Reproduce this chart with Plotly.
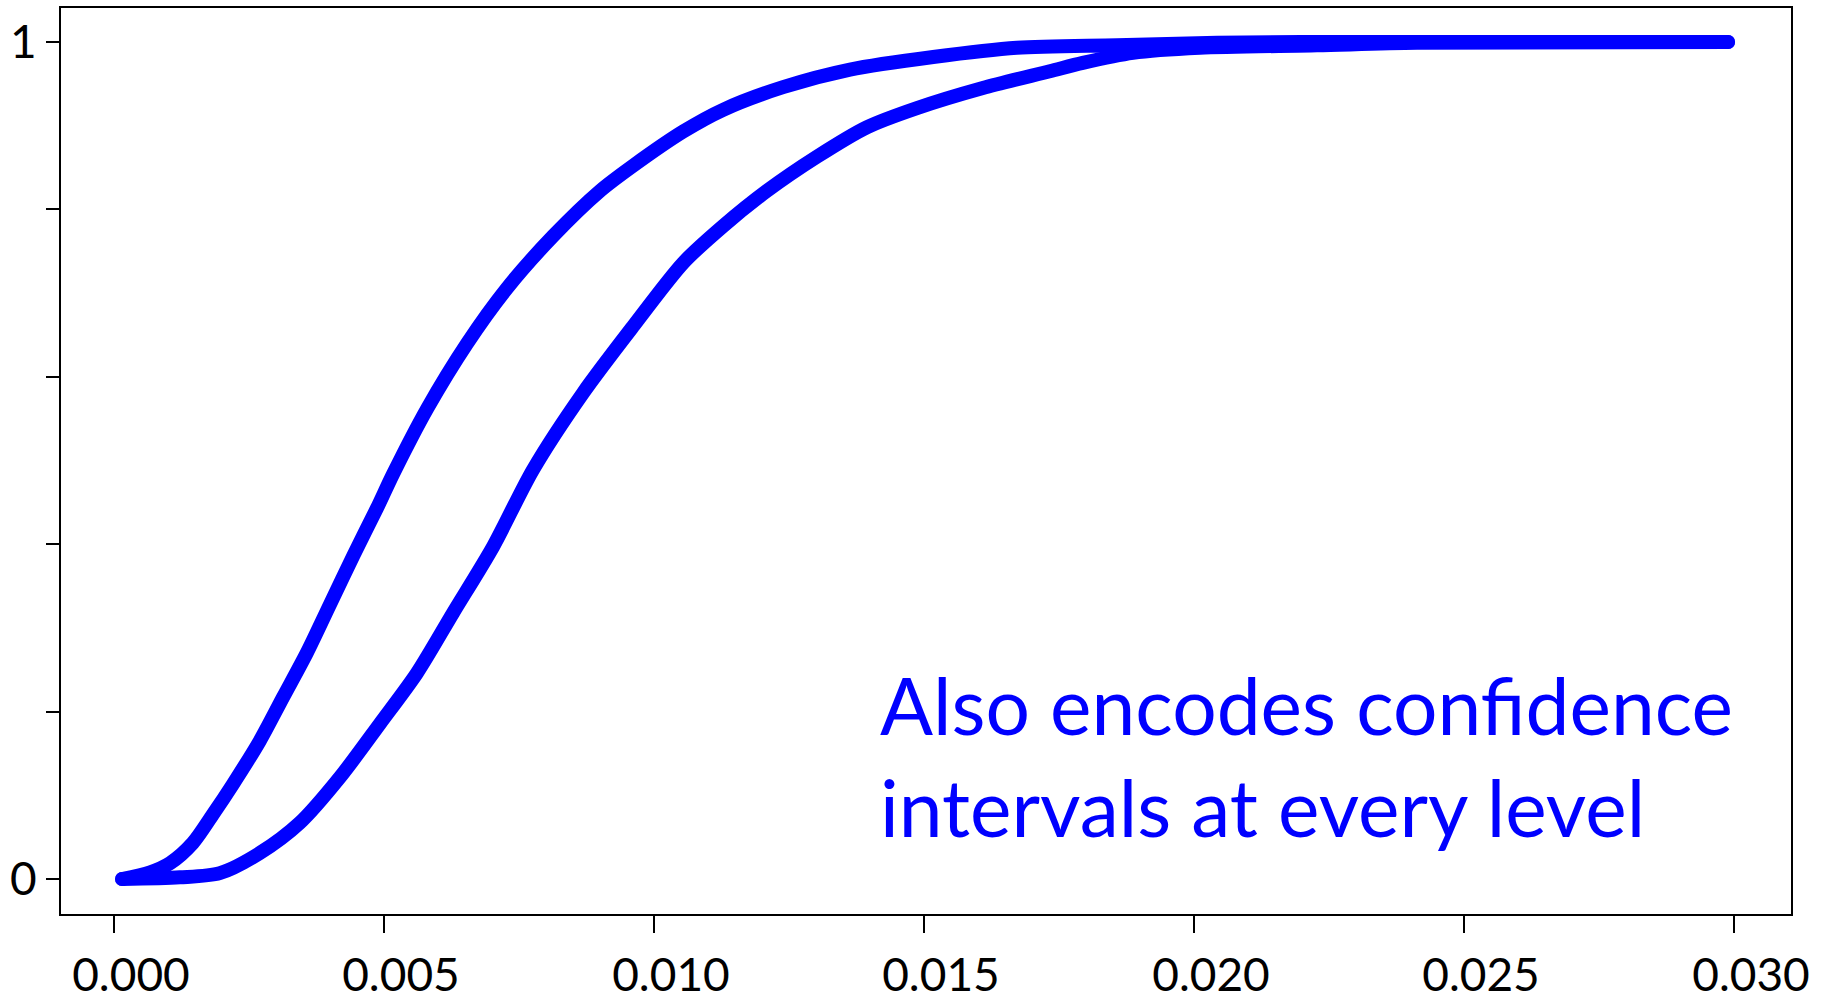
import plotly.graph_objects as go

# Upper (left) bound of the ECDF confidence band
upper_x = [0.00015, 0.00067, 0.00104, 0.00146, 0.00183, 0.00220, 0.00270, 0.00313,
           0.00357, 0.00400, 0.00443, 0.00487, 0.00517, 0.00580, 0.00654, 0.00728,
           0.00813, 0.00900, 0.00961, 0.01054, 0.01128, 0.01239, 0.01363, 0.01517,
           0.01672, 0.01857, 0.02043, 0.02228, 0.02989]
upper_y = [0.000, 0.008, 0.019, 0.043, 0.077, 0.113, 0.165, 0.217,
           0.270, 0.328, 0.386, 0.443, 0.484, 0.562, 0.640, 0.706,
           0.768, 0.822, 0.852, 0.893, 0.919, 0.946, 0.967, 0.982,
           0.993, 0.996, 0.999, 1.000, 1.000]

# Lower (right) bound of the ECDF confidence band
lower_x = [0.00015, 0.00122, 0.00196, 0.00270, 0.00344, 0.00419, 0.00493, 0.00561,
           0.00628, 0.00702, 0.00776, 0.00869, 0.00961, 0.01054, 0.01128, 0.01209,
           0.01302, 0.01394, 0.01487, 0.01609, 0.01733, 0.01794, 0.01887, 0.02011,
           0.02228, 0.02413, 0.02989]
lower_y = [0.000, 0.002, 0.007, 0.031, 0.067, 0.122, 0.186, 0.246,
           0.318, 0.397, 0.489, 0.581, 0.660, 0.736, 0.780, 0.822,
           0.863, 0.898, 0.921, 0.945, 0.965, 0.975, 0.987, 0.993,
           0.996, 0.999, 1.000]

x_tick_vals = [0.000, 0.005, 0.010, 0.015, 0.020, 0.025, 0.030]
x_tick_text = ["0.000", "0.005", "0.010", "0.015", "0.020", "0.025", "0.030"]
y_tick_vals = [0, 0.2, 0.4, 0.6, 0.8, 1.0]
y_tick_text = ["0", "", "", "", "", "1"]

note_text = "Also encodes confidence<br>intervals at every level"

BLUE = "#0000FF"
FONT = "Lato"

fig = go.Figure()
for xs, ys in [(upper_x, upper_y), (lower_x, lower_y)]:
    fig.add_trace(go.Scatter(
        x=xs, y=ys, mode="lines",
        line=dict(color=BLUE, width=14, shape="spline", smoothing=0.8),
        showlegend=False, hoverinfo="skip",
    ))
    # round end caps
    fig.add_trace(go.Scatter(
        x=[xs[0], xs[-1]], y=[ys[0], ys[-1]], mode="markers",
        marker=dict(color=BLUE, size=14),
        showlegend=False, hoverinfo="skip",
    ))

fig.add_annotation(
    text=note_text, xref="paper", yref="paper",
    x=0.4723, y=0.1745, xanchor="left", yanchor="middle",
    align="left", showarrow=False,
    font=dict(family=FONT, size=78.5, color=BLUE),
)

fig.update_xaxes(
    range=[-0.000981, 0.031056], tickvals=x_tick_vals, ticktext=x_tick_text,
    ticks="outside", ticklen=17, tickwidth=2, tickcolor="black",
    showline=True, linecolor="black", linewidth=2, mirror=True,
    showgrid=False, zeroline=False, automargin=False,
    ticklabelshift=17, ticklabelstandoff=3,
    tickfont=dict(family=FONT, size=46, color="black"),
)
fig.update_yaxes(
    range=[-0.0418, 1.0406], tickvals=y_tick_vals, ticktext=y_tick_text,
    ticks="outside", ticklen=13, tickwidth=2, tickcolor="black",
    showline=True, linecolor="black", linewidth=2, mirror=True,
    showgrid=False, zeroline=False, automargin=False,
    tickfont=dict(family=FONT, size=46, color="black"),
)

fig.update_layout(
    width=1825, height=1003,
    margin=dict(l=61, r=34, t=8, b=89, autoexpand=False),
    paper_bgcolor="white", plot_bgcolor="white",
)

fig.write_html("out.html")
